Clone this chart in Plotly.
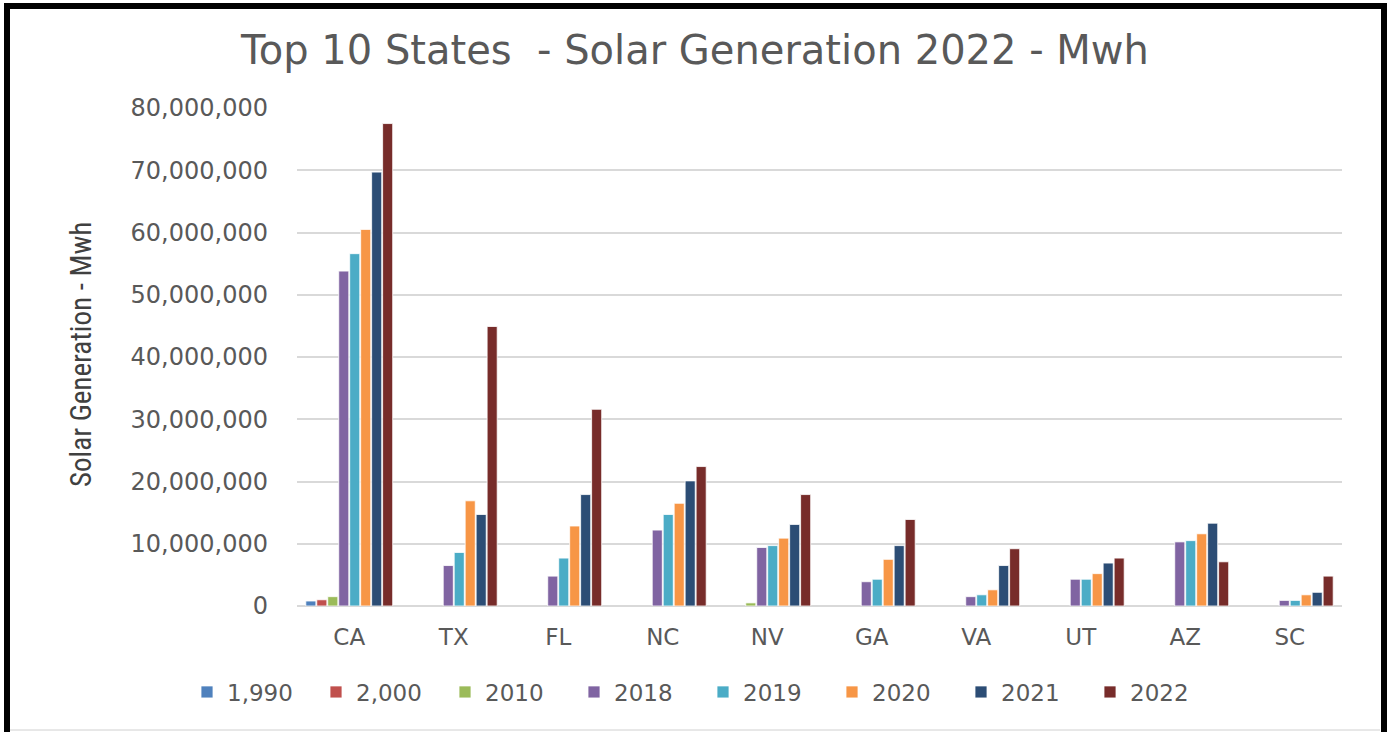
import plotly.graph_objects as go

# categories and series (Mwh)
states = ['CA', 'TX', 'FL', 'NC', 'NV', 'GA', 'VA', 'UT', 'AZ', 'SC']
years = ['1,990', '2,000', '2010', '2018', '2019', '2020', '2021', '2022']

gen_1990 = [800000, None, None, None, None, None, None, None, None, None]
gen_2000 = [1000000, None, None, None, None, None, None, None, None, None]
gen_2010 = [1500000, None, None, None, 500000, None, None, None, None, None]
gen_2018 = [53800000, 6500000, 4800000, 12200000, 9400000, 3900000, 1500000, 4300000, 10300000, 900000]
gen_2019 = [56600000, 8600000, 7700000, 14700000, 9700000, 4300000, 1800000, 4300000, 10500000, 900000]
gen_2020 = [60500000, 16900000, 12850000, 16500000, 10900000, 7500000, 2600000, 5200000, 11600000, 1800000]
gen_2021 = [69700000, 14700000, 17900000, 20100000, 13100000, 9700000, 6500000, 6900000, 13300000, 2200000]
gen_2022 = [77500000, 44900000, 31600000, 22400000, 17900000, 13900000, 9200000, 7700000, 7100000, 4800000]

series = [gen_1990, gen_2000, gen_2010, gen_2018, gen_2019, gen_2020, gen_2021, gen_2022]
colors = ['#4F81BD', '#C0504D', '#9BBB59', '#8064A2', '#4BACC6', '#F79646', '#2C4D75', '#772C2A']

y_ticks = list(range(0, 80000001, 10000000))

W, H = 1387, 732
L, R, T, B = 297, 45, 108, 126
pw, ph = W - L - R, H - T - B

def px_x(v):
    return (v - L) / pw

def px_y(v):
    return (H - B - v) / ph

fig = go.Figure()
for name, vals, c in zip(years, series, colors):
    fig.add_trace(go.Bar(x=states, y=vals, name=name, marker_color=c,
                         marker_line=dict(color='white', width=0.8)))

grey = '#595959'
fig.update_layout(
    width=W, height=H,
    margin=dict(l=L, r=R, t=T, b=B),
    paper_bgcolor='white', plot_bgcolor='white',
    barmode='group', bargap=0.16, bargroupgap=0.08,
    font=dict(family='DejaVu Sans', color=grey),
    title=dict(text='Top 10 States  - Solar Generation 2022 - Mwh', x=695 / W, xref='container',
               xanchor='center', y=1 - 50 / H, yref='container', yanchor='middle',
               font=dict(family='DejaVu Sans', size=40, color=grey)),
    xaxis=dict(showgrid=False, showline=False, ticks='', tickfont=dict(size=23, color=grey),
               ticklabelstandoff=15),
    yaxis=dict(range=[0, 80000000], tickvals=y_ticks, tickformat=',d',
               showgrid=True, gridcolor='#d9d9d9', gridwidth=2,
               zeroline=True, zerolinecolor='#d9d9d9', zerolinewidth=2,
               tickfont=dict(size=24, color=grey), ticklabelstandoff=28),
    legend=dict(orientation='h', x=px_x(703), xanchor='center', y=px_y(692), yanchor='middle',
                font=dict(size=23, color=grey), traceorder='normal',
                entrywidth=84, entrywidthmode='pixels', itemwidth=30),
    showlegend=True,
)

fig.add_annotation(text='Solar Generation - Mwh', textangle=-90, x=px_x(81), y=px_y(355),
                   xref='paper', yref='paper', xanchor='center', yanchor='middle', showarrow=False,
                   font=dict(family='Liberation Sans Narrow, Roboto Condensed, DejaVu Sans Condensed', size=29, color='#404040'))

# black frame around the chart (bottom edge falls outside the image)
frame = dict(color='black', width=6)
fig.add_shape(type='line', xref='paper', yref='paper', x0=px_x(7), x1=px_x(7), y0=px_y(3), y1=px_y(740), line=frame)
fig.add_shape(type='line', xref='paper', yref='paper', x0=px_x(4), x1=px_x(1390), y0=px_y(6), y1=px_y(6), line=frame)
fig.add_shape(type='line', xref='paper', yref='paper', x0=px_x(1384), x1=px_x(1384), y0=px_y(3), y1=px_y(740), line=frame)
fig.add_shape(type='line', xref='paper', yref='paper', x0=px_x(10), x1=px_x(1380), y0=px_y(730), y1=px_y(730),
              line=dict(color='#d0d0d0', width=1))

fig.write_html('out.html', config={'displayModeBar': False},
               post_script="document.body.style.margin='0';document.body.style.overflow='hidden';")
